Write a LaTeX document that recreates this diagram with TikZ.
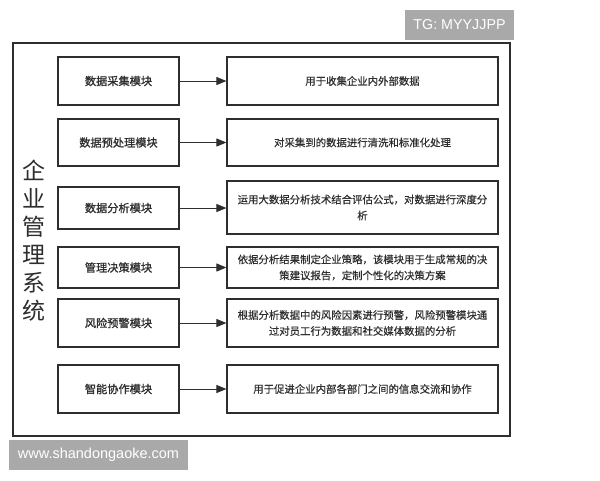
\documentclass[tikz,border=0pt]{standalone}
\usepackage{fontspec}
\setmainfont{Liberation Sans}
\newfontfamily\cjk{Noto Sans CJK SC}
\newfontfamily\cjkb[FakeBold=1.2]{Noto Sans CJK SC}
\newfontfamily\cjkm[FakeBold=0.4]{Noto Sans CJK SC}
\usetikzlibrary{arrows.meta}
\definecolor{ink}{HTML}{2E2E2E}
\definecolor{wm}{HTML}{A9A9A9}
\begin{document}
\begin{tikzpicture}[x=1pt,y=-1pt,
  modbox/.style={draw=ink,line width=1.2pt,rectangle,inner sep=0pt,font=\cjkb\fontsize{11.2}{13}\selectfont,text=ink},
  descbox/.style={draw=ink,line width=1.2pt,rectangle,inner sep=0pt,font=\cjkm\fontsize{10.4}{16}\selectfont,text=ink,align=center},
  link/.style={draw=ink,line width=1pt,-{Triangle[length=10pt,width=8pt]}},
  wmbox/.style={fill=wm,inner sep=0pt,text=white,font=\fontsize{14.3}{16}\selectfont}]
\useasboundingbox (0,0) rectangle (600,480);
\fill[white] (0,0) rectangle (600,480);
% watermarks
\node[wmbox,minimum width=109pt,minimum height=30pt] (wmtop) at (459.5,25) {TG: MYYJJPP};
\node[wmbox,minimum width=179pt,minimum height=30pt,font=\fontsize{14.5}{16}\selectfont] (wmbot) at (98.5,455) {www.shandongaoke.com};
% outer frame
\node[draw=ink,line width=1.2pt,minimum width=497pt,minimum height=393pt,inner sep=0pt] (frame) at (261.5,239.5) {};
% title
\node[font=\cjk\fontsize{23}{28}\selectfont,text=ink,align=center,inner sep=0pt] (title) at (34,241) {企\\业\\管\\理\\系\\统};
% modules
\node[modbox,minimum width=121pt,minimum height=48pt] (m1) at (118.5,81) {数据采集模块};
\node[modbox,minimum width=121pt,minimum height=47pt] (m2) at (118.5,142.5) {数据预处理模块};
\node[modbox,minimum width=121pt,minimum height=42pt] (m3) at (118.5,208) {数据分析模块};
\node[modbox,minimum width=121pt,minimum height=41pt] (m4) at (118.5,267.5) {管理决策模块};
\node[modbox,minimum width=121pt,minimum height=48pt] (m5) at (118.5,323) {风险预警模块};
\node[modbox,minimum width=121pt,minimum height=48pt] (m6) at (118.5,389) {智能协作模块};
% descriptions
\node[descbox,minimum width=271pt,minimum height=48pt] (d1) at (362.5,81) {用于收集企业内外部数据};
\node[descbox,minimum width=271pt,minimum height=47pt] (d2) at (362.5,142.5) {对采集到的数据进行清洗和标准化处理};
\node[descbox,minimum width=271pt,minimum height=53pt] (d3) at (362.5,207.5) {运用大数据分析技术结合评估公式，对数据进行深度分\\析};
\node[descbox,minimum width=271pt,minimum height=41pt] (d4) at (362.5,267.5) {依据分析结果制定企业策略，该模块用于生成常规的决\\策建议报告，定制个性化的决策方案};
\node[descbox,minimum width=271pt,minimum height=48pt] (d5) at (362.5,323) {根据分析数据中的风险因素进行预警，风险预警模块通\\过对员工行为数据和社交媒体数据的分析};
\node[descbox,minimum width=271pt,minimum height=48pt] (d6) at (362.5,389) {用于促进企业内部各部门之间的信息交流和协作};
% links
\foreach \i in {1,...,6}{
  \draw[link] (m\i.east) -- (m\i.east -| d\i.west);
}
\end{tikzpicture}
\end{document}
